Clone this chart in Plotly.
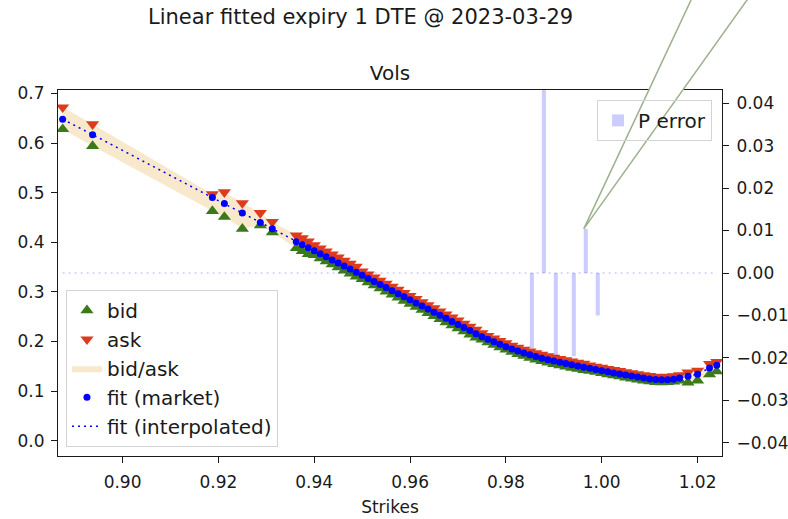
import plotly.graph_objects as go

# Market quotes per strike (strike / spot)
strikes = [
    0.8875, 0.89375, 0.91875, 0.92125, 0.925, 0.92875, 0.93125,
    0.93625, 0.9375, 0.93875, 0.94, 0.94125, 0.9425, 0.94375, 0.945,
    0.94625, 0.9475, 0.94875, 0.95, 0.95125, 0.9525, 0.95375, 0.955,
    0.95625, 0.9575, 0.95875, 0.96, 0.96125, 0.9625, 0.96375, 0.965,
    0.96625, 0.9675, 0.96875, 0.97, 0.97125, 0.9725, 0.97375, 0.975,
    0.97625, 0.9775, 0.97875, 0.98, 0.98125, 0.9825, 0.98375, 0.985,
    0.98625, 0.9875, 0.98875, 0.99, 0.99125, 0.9925, 0.99375, 0.995,
    0.99625, 0.9975, 0.99875, 1.0, 1.00125, 1.0025, 1.00375, 1.005,
    1.00625, 1.0075, 1.00875, 1.01, 1.01125, 1.0125, 1.01375, 1.015,
    1.01625, 1.018, 1.02, 1.0225, 1.024,
]
bid = [
    0.628, 0.594, 0.463, 0.451, 0.427, 0.434, 0.420,
    0.3880, 0.3822, 0.3759, 0.3740, 0.3677, 0.3617, 0.3553, 0.3494,
    0.3429, 0.3369, 0.3306, 0.3255, 0.3191, 0.3131, 0.3068, 0.3007,
    0.2943, 0.2883, 0.2819, 0.2759, 0.2696, 0.2635, 0.2572, 0.2511,
    0.2448, 0.2387, 0.2324, 0.2263, 0.2201, 0.2139, 0.2077, 0.2036,
    0.1983, 0.1932, 0.1882, 0.1834, 0.1788, 0.1746, 0.1707, 0.1670,
    0.1635, 0.1602, 0.1572, 0.1544, 0.1518, 0.1493, 0.1469, 0.1445,
    0.1421, 0.1407, 0.1384, 0.1361, 0.1338, 0.1316, 0.1294, 0.1272,
    0.1251, 0.1231, 0.1212, 0.1195, 0.1182, 0.1176, 0.1178, 0.1190,
    0.1212, 0.1170, 0.1210, 0.1335, 0.1395,
]
ask = [
    0.672, 0.638, 0.497, 0.501, 0.479, 0.459, 0.441,
    0.4140, 0.4082, 0.4019, 0.3940, 0.3877, 0.3817, 0.3753, 0.3694,
    0.3629, 0.3569, 0.3506, 0.3415, 0.3351, 0.3291, 0.3228, 0.3167,
    0.3103, 0.3043, 0.2979, 0.2919, 0.2856, 0.2795, 0.2732, 0.2671,
    0.2608, 0.2547, 0.2484, 0.2423, 0.2361, 0.2299, 0.2237, 0.2166,
    0.2113, 0.2062, 0.2012, 0.1964, 0.1918, 0.1876, 0.1837, 0.1800,
    0.1765, 0.1732, 0.1702, 0.1674, 0.1648, 0.1623, 0.1599, 0.1575,
    0.1551, 0.1517, 0.1494, 0.1471, 0.1448, 0.1426, 0.1404, 0.1382,
    0.1361, 0.1341, 0.1322, 0.1305, 0.1292, 0.1286, 0.1288, 0.1300,
    0.1322, 0.1375, 0.1410, 0.1545, 0.1590,
]
fit = [
    0.648, 0.617, 0.490, 0.478, 0.459, 0.440, 0.427,
    0.4010, 0.3952, 0.3889, 0.3830, 0.3767, 0.3707, 0.3643, 0.3584,
    0.3519, 0.3459, 0.3396, 0.3335, 0.3271, 0.3211, 0.3148, 0.3087,
    0.3023, 0.2963, 0.2899, 0.2839, 0.2776, 0.2715, 0.2652, 0.2591,
    0.2528, 0.2467, 0.2404, 0.2343, 0.2281, 0.2219, 0.2157, 0.2096,
    0.2043, 0.1992, 0.1942, 0.1894, 0.1848, 0.1806, 0.1767, 0.1730,
    0.1695, 0.1662, 0.1632, 0.1604, 0.1578, 0.1553, 0.1529, 0.1505,
    0.1481, 0.1457, 0.1434, 0.1411, 0.1388, 0.1366, 0.1344, 0.1322,
    0.1301, 0.1281, 0.1262, 0.1245, 0.1232, 0.1226, 0.1228, 0.1240,
    0.1262, 0.1300, 0.1340, 0.1465, 0.1520,
]

# Price errors of the fit at the strikes where it misses
err_strikes = [0.985, 0.9875, 0.99, 0.99375, 0.99625, 0.99875]
err = [-0.0177, 0.0431, -0.0195, -0.0196, 0.0104, -0.0100]

x_ticks = [0.90, 0.92, 0.94, 0.96, 0.98, 1.00, 1.02]
vol_ticks = [0.0, 0.1, 0.2, 0.3, 0.4, 0.5, 0.6, 0.7]
err_ticks = [-0.04, -0.03, -0.02, -0.01, 0.0, 0.01, 0.02, 0.03, 0.04]

X_RANGE = [0.88653, 1.0251]
VOL_RANGE = [-0.031, 0.707]
ERR_RANGE = [-0.0431, 0.0431]

FONT = "DejaVu Sans"
INK = "#1a1a1a"
GREEN = "#3a7a1a"
RED = "#dd3c1c"
BLUE = "#0000ff"
BAND = "rgba(242,212,155,0.5)"
LAVENDER = "rgba(0,0,255,0.2)"

fig = go.Figure()

# bid/ask band
fig.add_trace(go.Scatter(
    x=strikes, y=bid, mode="lines", line=dict(width=0, color=BAND),
    showlegend=False, hoverinfo="skip",
))
fig.add_trace(go.Scatter(
    x=strikes, y=ask, mode="lines", line=dict(width=0, color=BAND),
    fill="tonexty", fillcolor=BAND, name="bid/ask", legendrank=3,
))
fig.add_trace(go.Scatter(
    x=strikes, y=bid, mode="markers", name="bid", legendrank=1,
    marker=dict(symbol="triangle-up", size=11.5, color=GREEN),
))
fig.add_trace(go.Scatter(
    x=strikes, y=ask, mode="markers", name="ask", legendrank=2,
    marker=dict(symbol="triangle-down", size=11.5, color=RED),
))
fig.add_trace(go.Scatter(
    x=strikes, y=fit, mode="markers", name="fit (market)", legendrank=4,
    marker=dict(symbol="circle", size=7, color=BLUE),
))
fig.add_trace(go.Scatter(
    x=strikes, y=fit, mode="lines", name="fit (interpolated)", legendrank=5,
    line=dict(color=BLUE, width=1.5, dash="2px,4px"),
))

# error bars on the secondary axis
fig.add_trace(go.Scatter(
    x=[strikes[0], strikes[-1]], y=[0, 0], mode="lines", yaxis="y2",
    line=dict(color=LAVENDER, width=1.5, dash="2px,4px"),
    showlegend=False, hoverinfo="skip",
))
fig.add_trace(go.Bar(
    x=err_strikes, y=err, yaxis="y2", width=0.00085, offset=0,
    marker=dict(color=LAVENDER, line=dict(width=0)),
    name="P error", legend="legend2",
))

# wedge annotation pointing at the positive error bar
tip_x = (err_strikes[4] - X_RANGE[0]) / (X_RANGE[1] - X_RANGE[0])
tip_y = (err[4] - ERR_RANGE[0]) / (ERR_RANGE[1] - ERR_RANGE[0])
base = [(0.9816, 1.355), (1.0806, 1.355)]
fig.add_shape(
    type="path", xref="paper", yref="paper", layer="above",
    path=f"M {base[0][0]},{base[0][1]} L {tip_x},{tip_y} L {base[1][0]},{base[1][1]} Z",
    fillcolor="white", line=dict(color="#9cb08e", width=1.5),
)

axis_common = dict(
    showgrid=False, zeroline=False, showline=True, linecolor=INK, linewidth=1,
    ticks="outside", ticklen=6, tickwidth=1, tickcolor=INK, automargin=False,
    tickfont=dict(family=FONT, size=17, color=INK),
)

fig.update_layout(
    width=788, height=519,
    margin=dict(l=58, r=66, t=90, b=63),
    paper_bgcolor="white", plot_bgcolor="white",
    font=dict(family=FONT, color=INK),
    barmode="overlay",
    title=dict(
        text="Vols", x=0.5, xref="paper", xanchor="center",
        y=1 - 73 / 519, yref="container", yanchor="middle",
        font=dict(family=FONT, size=20, color=INK),
    ),
    xaxis=dict(
        range=X_RANGE, tickvals=x_ticks, tickformat=".2f", mirror=True,
        ticklabelstandoff=5,
        title=dict(text="Strikes", standoff=9,
                   font=dict(family=FONT, size=17, color=INK)),
        **axis_common,
    ),
    yaxis=dict(range=VOL_RANGE, tickvals=vol_ticks, tickformat=".1f",
               ticklabelstandoff=3, **axis_common),
    yaxis2=dict(
        range=ERR_RANGE, tickvals=err_ticks, tickformat=".2f",
        overlaying="y", side="right", ticklabelstandoff=4, **axis_common,
    ),
    legend=dict(
        x=0.012, y=0.025, xanchor="left", yanchor="bottom",
        bgcolor="rgba(255,255,255,0.8)", bordercolor="#d4d4d4", borderwidth=1,
        font=dict(family=FONT, size=20, color=INK),
        traceorder="normal",
    ),
    legend2=dict(
        x=0.985, y=0.973, xanchor="right", yanchor="top",
        bgcolor="rgba(255,255,255,0)", bordercolor="#d4d4d4", borderwidth=1,
        font=dict(family=FONT, size=20, color=INK),
    ),
    annotations=[dict(
        text="Linear fitted expiry 1 DTE @ 2023-03-29",
        xref="paper", yref="paper", x=0.456, y=1.1995,
        xanchor="center", yanchor="middle", showarrow=False,
        font=dict(family=FONT, size=21, color=INK),
    )],
)

fig.write_html("out.html")
